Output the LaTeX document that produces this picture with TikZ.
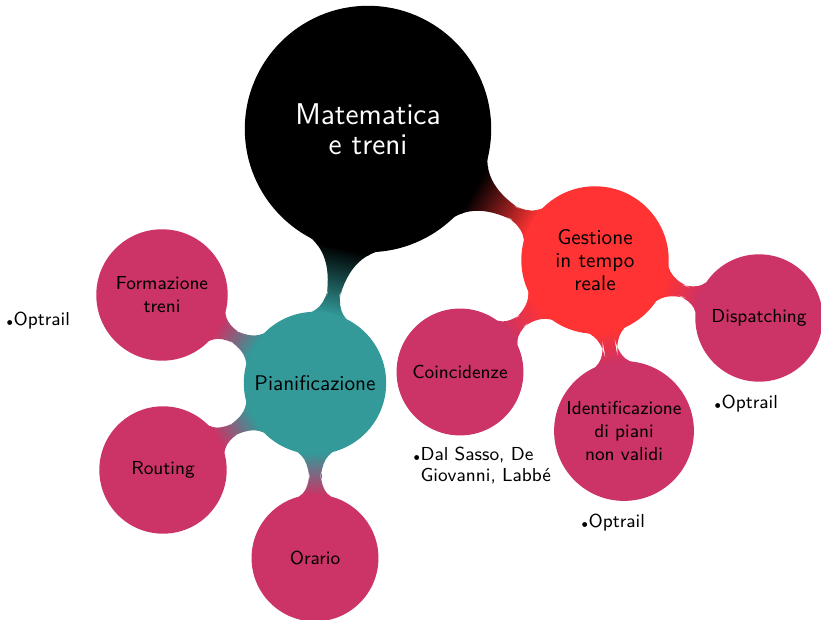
\documentclass[tikz,border=0pt]{standalone}
\usepackage{fontspec}
\usetikzlibrary{mindmap,calc,backgrounds}

\begin{document}
\begin{tikzpicture}[mindmap, x=0.5pt, y=-0.5pt]
	% stili dei nodi
	\tikzstyle{radice} = [concept, concept color=black, text=white, minimum size=122pt, text width=84pt, inner sep=0pt, align=center, font=\sffamily\fontsize{15}{15}\selectfont]
	\tikzstyle{ramo} = [concept, minimum size=70pt, text width=66pt, inner sep=0pt, align=center, text=black, font=\sffamily\fontsize{10.6}{11.5}\selectfont]
	\tikzstyle{foglia} = [concept, concept color=purple!80, minimum size=62pt, text width=62pt, inner sep=0pt, align=center, text=black, font=\sffamily\fontsize{9.4}{11.5}\selectfont]
	\tikzstyle{nota} = [anchor=base west, inner sep=0pt, align=left, font=\sffamily\fontsize{9.4}{10.5}\selectfont]
	\newcommand{\pallino}{{\tiny$\bullet$}}

	\useasboundingbox (0,0) rectangle (821,620);

	% concetti
	\node [radice] (root) at (368,129) {Matematica\\e treni};
	\node [ramo, concept color=teal!80] (pian) at ($(root)+(-53,254)$) {Pianificazione};
	\node [ramo, concept color=red!80] (gest) at ($(root)+(227,131)$) {Gestione\\in tempo\\reale};

	\node [foglia, minimum size=63pt] (form) at ($(pian)+(-153,-88)$) {Formazione\\treni};
	\node [foglia] (rout) at ($(pian)+(-152,87)$) {Routing};
	\node [foglia] (orar) at ($(pian)+(0,175)$) {Orario};

	\node [foglia, minimum size=61pt] (coin) at ($(gest)+(-135,112)$) {Coincidenze};
	\node [foglia, minimum size=68pt] (iden) at ($(gest)+(29,171)$) {Identificazione\\di piani\\non validi};
	\node [foglia] (disp) at ($(gest)+(164,58)$) {Dispatching};

	% collegamenti
	\begin{scope}[on background layer]
		\path (root) to[circle connection bar switch color=from (black) to (teal!80)] (pian);
		\path (root) to[circle connection bar switch color=from (black) to (red!80)] (gest);
		\path (pian) to[circle connection bar switch color=from (teal!80) to (purple!80)] (form);
		\path (pian) to[circle connection bar switch color=from (teal!80) to (purple!80)] (rout);
		\path (pian) to[circle connection bar switch color=from (teal!80) to (purple!80)] (orar);
		\path (gest) to[circle connection bar switch color=from (red!80) to (purple!80)] (coin);
		\path (gest) to[circle connection bar switch color=from (red!80) to (purple!80)] (iden);
		\path (gest) to[circle connection bar switch color=from (red!80) to (purple!80)] (disp);
	\end{scope}

	% annotazioni
	\node [nota] (nform) at ($(form)+(-170,31)$) {\pallino Optrail};
	\node [nota] (ncoin) at ($(coin)+(-61,89)$) {\pallino\begin{tabular}[t]{@{}l@{}}Dal Sasso, De\\Giovanni, Labbé\end{tabular}};
	\node [nota] (niden) at ($(iden)+(-57,97)$) {\pallino Optrail};
	\node [nota] (ndisp) at ($(disp)+(-59,91)$) {\pallino Optrail};
\end{tikzpicture}
\end{document}
